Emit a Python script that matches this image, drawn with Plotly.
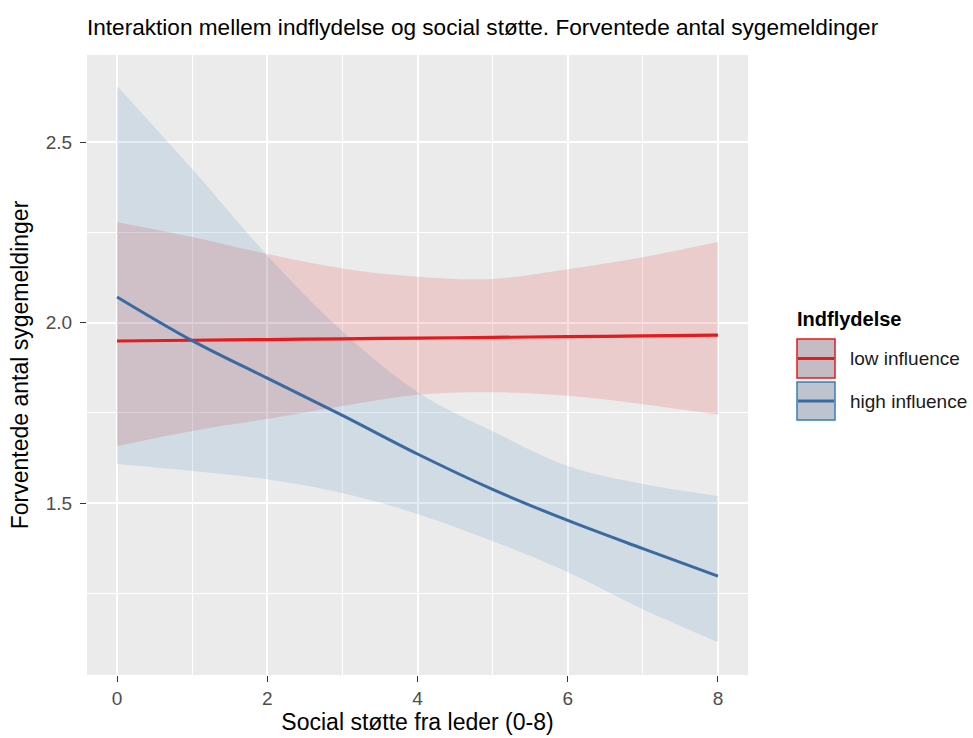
import plotly.graph_objects as go

# ---- data ----
social_support = [0, 1, 2, 3, 4, 5, 6, 7, 8]

low_fit = [1.949, 1.951, 1.953, 1.955, 1.957, 1.959, 1.961, 1.963, 1.965]
low_hi = [2.278, 2.237, 2.190, 2.150, 2.127, 2.121, 2.148, 2.181, 2.223]
low_lo = [1.658, 1.700, 1.733, 1.769, 1.800, 1.807, 1.797, 1.774, 1.745]

high_fit = [2.071, 1.950, 1.846, 1.743, 1.636, 1.538, 1.452, 1.374, 1.298]
high_hi = [2.655, 2.425, 2.186, 1.976, 1.808, 1.699, 1.603, 1.553, 1.520]
high_lo = [1.608, 1.589, 1.566, 1.528, 1.470, 1.395, 1.309, 1.206, 1.115]

group_labels = ["low influence", "high influence"]
x_ticks = [0, 2, 4, 6, 8]
y_ticks = [1.5, 2.0, 2.5]

title_text = "Interaktion mellem indflydelse og social støtte. Forventede antal sygemeldinger"
x_title = "Social støtte fra leder (0-8)"
y_title = "Forventede antal sygemeldinger"
legend_title = "Indflydelse"

# ---- styling ----
RED = "#E41A1C"
BLUE = "#377EB8"
BLUE_LINE = "#3A6AA0"
RED_FILL = "rgba(228,26,28,0.15)"
BLUE_FILL = "rgba(55,126,184,0.15)"
FONT = "Liberation Sans, Arial, sans-serif"

W, H = 973, 738
PL, PR, PT, PB = 87, 748, 55, 675  # panel edges in pixels


def xp(px):
    return (px - PL) / (PR - PL)


def yp(py):
    return (PB - py) / (PB - PT)


fig = go.Figure()

# ribbons
fig.add_trace(go.Scatter(x=social_support, y=low_lo, mode="lines", line=dict(width=0, shape="spline"),
                         hoverinfo="skip", showlegend=False))
fig.add_trace(go.Scatter(x=social_support, y=low_hi, mode="lines", line=dict(width=0, shape="spline"),
                         fill="tonexty", fillcolor=RED_FILL, hoverinfo="skip", showlegend=False))
fig.add_trace(go.Scatter(x=social_support, y=high_lo, mode="lines", line=dict(width=0, shape="spline"),
                         hoverinfo="skip", showlegend=False))
fig.add_trace(go.Scatter(x=social_support, y=high_hi, mode="lines", line=dict(width=0, shape="spline"),
                         fill="tonexty", fillcolor=BLUE_FILL, hoverinfo="skip", showlegend=False))

# fitted lines
fig.add_trace(go.Scatter(x=social_support, y=low_fit, mode="lines", name=group_labels[0],
                         line=dict(color=RED, width=3.2, shape="spline"), showlegend=False))
fig.add_trace(go.Scatter(x=social_support, y=high_fit, mode="lines", name=group_labels[1],
                         line=dict(color=BLUE_LINE, width=3.0, shape="spline"), showlegend=False))

axis_common = dict(
    showgrid=True, gridcolor="white", gridwidth=1.6,
    zeroline=False, showline=False,
    ticks="outside", ticklen=6, tickwidth=1.4, tickcolor="#333333",
    tickfont=dict(family=FONT, size=19, color="#4D4D4D"),
    title_font=dict(family=FONT, size=23, color="#000000"),
)

fig.update_xaxes(
    range=[-0.4, 8.4], tickvals=x_ticks, ticktext=[str(v) for v in x_ticks],
    title_text=x_title, title_standoff=2,
    minor=dict(dtick=1, tick0=0, showgrid=True, gridcolor="white", gridwidth=0.8, ticks=""),
    **axis_common,
)
fig.update_yaxes(
    range=[1.024, 2.741], tickvals=y_ticks, ticktext=["1.5", "2.0", "2.5"],
    title_text=y_title, title_standoff=10, ticklabelstandoff=4,
    minor=dict(dtick=0.25, tick0=1.25, showgrid=True, gridcolor="white", gridwidth=0.8, ticks=""),
    **axis_common,
)

# custom legend (ggplot-like keys)
shapes = []
annotations = []
key_x0, key_x1 = 797, 835
keys = [(339, 378, RED, RED, "rgba(196,188,194,1)"), (382, 420, BLUE, BLUE_LINE, "rgba(190,196,206,1)")]
for (y0, y1, border, lcol, fillc), label in zip(keys, group_labels):
    shapes.append(dict(type="rect", xref="paper", yref="paper",
                       x0=xp(key_x0), x1=xp(key_x1), y0=yp(y1), y1=yp(y0),
                       line=dict(color=border, width=1.5), fillcolor=fillc, layer="above"))
    ym = yp((y0 + y1) / 2)
    shapes.append(dict(type="line", xref="paper", yref="paper",
                       x0=xp(key_x0 + 1), x1=xp(key_x1 - 1), y0=ym, y1=ym,
                       line=dict(color=lcol, width=3), layer="above"))
    annotations.append(dict(text=label, xref="paper", yref="paper", x=xp(848), y=ym,
                            xanchor="left", yanchor="middle", showarrow=False,
                            font=dict(family=FONT, size=19, color="#1A1A1A")))

annotations.append(dict(text="<b>" + legend_title + "</b>", xref="paper", yref="paper",
                        x=xp(795), y=yp(319), xanchor="left", yanchor="middle", showarrow=False,
                        font=dict(family=FONT, size=20, color="#000000")))

fig.update_layout(
    width=W, height=H,
    margin=dict(l=PL, r=W - PR, t=PT, b=H - PB, pad=0),
    paper_bgcolor="white", plot_bgcolor="#EBEBEB",
    title=dict(text=title_text, xref="paper", x=0, xanchor="left",
               yref="container", y=1 - 27 / H, yanchor="middle",
               font=dict(family=FONT, size=22.6, color="#000000")),
    shapes=shapes, annotations=annotations,
    showlegend=False,
)

fig.write_html("out.html")
